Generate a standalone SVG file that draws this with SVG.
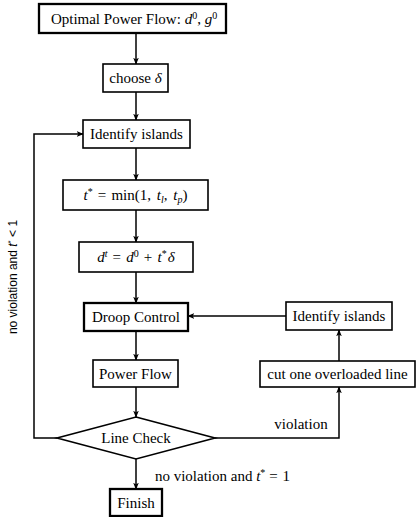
<svg xmlns="http://www.w3.org/2000/svg" width="418" height="517" viewBox="0 0 418 517">
<style>
  .box{fill:#fff;stroke:#000;stroke-width:1.6}
  .thick{stroke-width:2.3}
  .t{font-family:"Liberation Serif","Times New Roman",serif;font-size:15px;fill:#000;text-anchor:middle}
  .m{font-style:italic}
  .edge{fill:none;stroke:#000;stroke-width:1.5}
</style>
<defs>
  <marker id="ah" viewBox="0 0 10 10" refX="9" refY="5" markerWidth="7" markerHeight="7" markerUnits="userSpaceOnUse" orient="auto">
    <path d="M0,1 L10,5 L0,9 L2.5,5 Z" fill="#000"/>
  </marker>
</defs>
<rect width="418" height="517" fill="#fff"/>
<g id="connectors">
  <line class="edge" x1="136" y1="33" x2="136" y2="64" marker-end="url(#ah)"/>
  <line class="edge" x1="136" y1="92" x2="136" y2="120" marker-end="url(#ah)"/>
  <line class="edge" x1="136" y1="148" x2="136" y2="180" marker-end="url(#ah)"/>
  <line class="edge" x1="136" y1="210" x2="136" y2="242" marker-end="url(#ah)"/>
  <line class="edge" x1="136" y1="272" x2="136" y2="303" marker-end="url(#ah)"/>
  <line class="edge" x1="136" y1="331" x2="136" y2="360" marker-end="url(#ah)"/>
  <line class="edge" x1="136" y1="387" x2="136" y2="417" marker-end="url(#ah)"/>
  <line class="edge" x1="136" y1="459" x2="136" y2="489" marker-end="url(#ah)"/>
  <polyline class="edge" points="57,438 34,438 34,134 83,134" marker-end="url(#ah)"/>
  <polyline class="edge" points="215,438 339,438 339,387" marker-end="url(#ah)"/>
  <line class="edge" x1="339" y1="361" x2="339" y2="330" marker-end="url(#ah)"/>
  <line class="edge" x1="286" y1="316" x2="188" y2="316" marker-end="url(#ah)"/>
  <text class="t" x="17" y="277" transform="rotate(-90 17 277)" style="font-family:'Liberation Sans',Arial,sans-serif;font-size:12px">no violation and <tspan class="m">t</tspan><tspan dy="-4" font-size="8">*</tspan><tspan dy="4"> &lt; 1</tspan></text>
  <text class="t" x="301" y="429">violation</text>
  <text class="t" x="222.5" y="481">no violation and <tspan class="m">t</tspan><tspan dy="-5" font-size="10">*</tspan><tspan dy="5" dx="4">= </tspan><tspan dx="1">1</tspan></text>
</g>
<g id="opf">
  <rect class="box thick" x="39" y="4" width="187" height="29"/>
  <text class="t" x="134" y="23.5">Optimal Power Flow: <tspan class="m">d</tspan><tspan dy="-5" font-size="10">0</tspan><tspan dy="5">, </tspan><tspan class="m">g</tspan><tspan dy="-5" font-size="10">0</tspan></text>
</g>
<g id="choose">
  <rect class="box" x="103" y="64" width="65" height="28"/>
  <text class="t" x="135.5" y="83">choose <tspan class="m">δ</tspan></text>
</g>
<g id="identify1">
  <rect class="box" x="83" y="120" width="107" height="28"/>
  <text class="t" x="136.5" y="139">Identify islands</text>
</g>
<g id="tstar">
  <rect class="box" x="63" y="180" width="145" height="30"/>
  <text class="t" x="135.5" y="200"><tspan class="m">t</tspan><tspan dy="-5" font-size="10">*</tspan><tspan dy="5" dx="5">= </tspan><tspan dx="1.5">min(1, </tspan><tspan class="m" dx="2">t</tspan><tspan dy="3" font-size="10" class="m">l</tspan><tspan dy="-3">, </tspan><tspan class="m" dx="2">t</tspan><tspan dy="3" font-size="10" class="m">p</tspan><tspan dy="-3">)</tspan></text>
</g>
<g id="dt">
  <rect class="box" x="79" y="242" width="114" height="30"/>
  <text class="t" x="136" y="262"><tspan class="m">d</tspan><tspan dy="-5" font-size="10" class="m">t</tspan><tspan dy="5" dx="5">= </tspan><tspan class="m" dx="1.5">d</tspan><tspan dy="-5" font-size="10">0</tspan><tspan dy="5" dx="5">+ </tspan><tspan class="m" dx="1.5">t</tspan><tspan dy="-5" font-size="10">*</tspan><tspan dy="5" class="m" dx="1">δ</tspan></text>
</g>
<g id="droop">
  <rect class="box thick" x="84" y="303" width="104" height="28"/>
  <text class="t" x="136" y="322">Droop Control</text>
</g>
<g id="powerflow">
  <rect class="box" x="93" y="360" width="85" height="27"/>
  <text class="t" x="135.5" y="378.5">Power Flow</text>
</g>
<g id="linecheck">
  <polygon class="box" points="136,417 215,438 136,459 57,438"/>
  <text class="t" x="136" y="443">Line Check</text>
</g>
<g id="finish">
  <rect class="box thick" x="110" y="489" width="52" height="27"/>
  <text class="t" x="136" y="507.5">Finish</text>
</g>
<g id="identify2">
  <rect class="box" x="286" y="302" width="106" height="28"/>
  <text class="t" x="339" y="321">Identify islands</text>
</g>
<g id="cut">
  <rect class="box" x="260" y="361" width="155" height="26"/>
  <text class="t" x="337.5" y="379">cut one overloaded line</text>
</g>
</svg>
